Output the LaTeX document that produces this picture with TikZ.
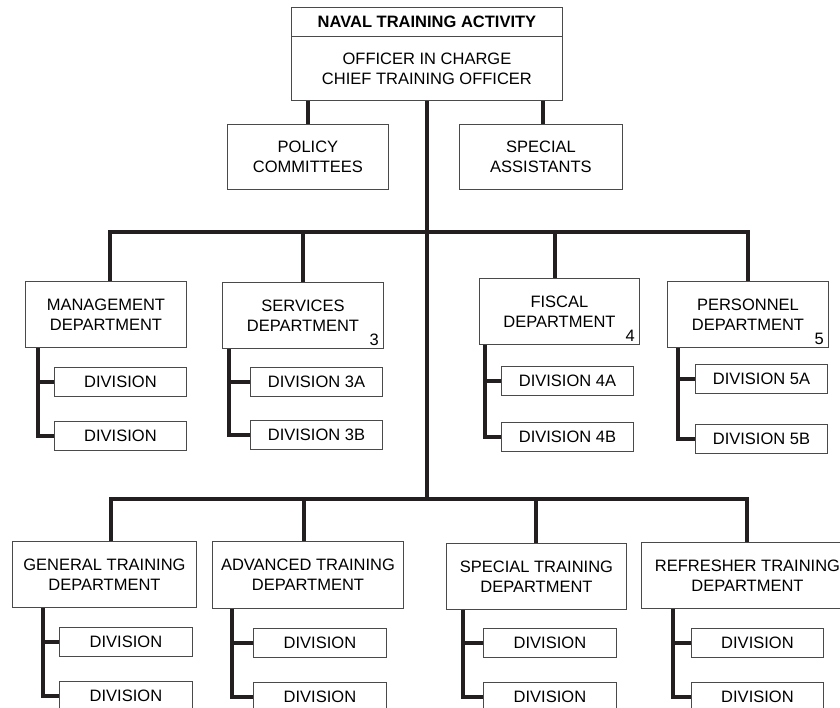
\documentclass[tikz,border=0pt]{standalone}
\usepackage{fontspec}
\setmainfont{Liberation Sans}
\usepackage{tikz}
\usetikzlibrary{positioning,calc}
\definecolor{linedark}{HTML}{231F20}
\definecolor{boxgray}{HTML}{4A4A4A}
\begin{document}
\begin{tikzpicture}[x=1pt, y=-1pt,
    box/.style={draw=boxgray, line width=0.9pt, inner sep=0pt, align=center, anchor=north west,
        font=\fontsize{16.5}{20}\selectfont},
    dept/.style={box, minimum width=161, minimum height=66},
    div/.style={box, minimum width=132, minimum height=29},
    num/.style={anchor=south east, inner xsep=5pt, inner ysep=3pt, font=\fontsize{16.5}{20}\selectfont},
    conn/.style={draw=linedark, line width=4pt}]
    \useasboundingbox (0,0) rectangle (840,708);
    \clip (0,0) rectangle (840,708);

    \node[box, minimum width=271, minimum height=29, font=\fontsize{16.5}{20}\selectfont\bfseries] (naval) at (291,7) {NAVAL TRAINING ACTIVITY};
    \node[box, minimum width=271, minimum height=64] (oic) at (291,36) {OFFICER IN CHARGE\\CHIEF TRAINING OFFICER};
    \node[box, minimum width=161, minimum height=65] (policy) at (227,124) {POLICY\\COMMITTEES};
    \node[box, minimum width=163, minimum height=65] (assist) at (459,124) {SPECIAL\\ASSISTANTS};

    \node[dept] (mgmt) at (25,281) {MANAGEMENT\\DEPARTMENT};
    \node[dept] (serv) at (222,282) {SERVICES\\DEPARTMENT};
    \node[dept, minimum width=160] (fisc) at (479,278) {FISCAL\\DEPARTMENT};
    \node[dept] (pers) at (667,281) {PERSONNEL\\DEPARTMENT};
    \node[num] (n3) at (serv.south east) {3};
    \node[num] (n4) at (fisc.south east) {4};
    \node[num] (n5) at (pers.south east) {5};

    \node[div] (md1) at (54,367) {DIVISION};
    \node[div] (md2) at (54,421) {DIVISION};
    \node[div] (sd1) at (250,367) {DIVISION 3A};
    \node[div] (sd2) at (250,420) {DIVISION 3B};
    \node[div] (fd1) at (501,366) {DIVISION 4A};
    \node[div] (fd2) at (501,422) {DIVISION 4B};
    \node[div] (pd1) at (695,364) {DIVISION 5A};
    \node[div] (pd2) at (695,424) {DIVISION 5B};

    \node[dept, minimum width=184] (gen) at (12,541) {GENERAL TRAINING\\DEPARTMENT};
    \node[dept, minimum width=191, minimum height=67] (adv) at (212,541) {ADVANCED TRAINING\\DEPARTMENT};
    \node[dept, minimum width=180] (spec) at (446,543) {SPECIAL TRAINING\\DEPARTMENT};
    \node[dept, minimum width=212] (refr) at (641,542) {REFRESHER TRAINING\\DEPARTMENT};

    \node[div, minimum width=133] (gd1) at (59,627) {DIVISION};
    \node[div, minimum width=133] (gd2) at (59,681) {DIVISION};
    \node[div, minimum width=133] (ad1) at (253,628) {DIVISION};
    \node[div, minimum width=133] (ad2) at (253,682) {DIVISION};
    \node[div, minimum width=133] (xd1) at (483,628) {DIVISION};
    \node[div, minimum width=133] (xd2) at (483,682) {DIVISION};
    \node[div] (rd1) at (691,628) {DIVISION};
    \node[div] (rd2) at (691,682) {DIVISION};

    \coordinate (b1) at (425,232);
    \coordinate (b2) at (425,499);

    \draw[conn] (oic.south) -- (oic.south |- b2);
    \draw[conn] (oic.south -| policy.north) -- (policy.north);
    \draw[conn] ([xshift=2pt]oic.south -| assist.north) -- ([xshift=2pt]assist.north);
    \draw[conn] ([xshift=4pt]mgmt.north) |- (b1) -| (pers.north);
    \draw[conn] (serv.north) -- (serv.north |- b1);
    \draw[conn] ([xshift=-4pt]fisc.north) -- ([xshift=-4pt]fisc.north |- b1);
    \draw[conn] ([xshift=7pt]gen.north) |- (b2) -| (refr.north);
    \draw[conn] ([xshift=-4pt]adv.north) -- ([xshift=-4pt]adv.north |- b2);
    \draw[conn] (spec.north) -- (spec.north |- b2);

    \coordinate (mb) at ([xshift=13pt]mgmt.south west);
    \coordinate (sb) at ([xshift=7pt]serv.south west);
    \coordinate (fb) at ([xshift=6pt]fisc.south west);
    \coordinate (pb) at ([xshift=11pt]pers.south west);
    \coordinate (gb) at ([xshift=31pt]gen.south west);
    \coordinate (ab) at ([xshift=20pt]adv.south west);
    \coordinate (xb) at ([xshift=17pt]spec.south west);
    \coordinate (rb) at ([xshift=32pt]refr.south west);

    \draw[conn] (mb) |- (md2.west);
    \draw[conn] (mb |- md1.west) -- (md1.west);
    \draw[conn] (sb) |- (sd2.west);
    \draw[conn] (sb |- sd1.west) -- (sd1.west);
    \draw[conn] (fb) |- (fd2.west);
    \draw[conn] (fb |- fd1.west) -- (fd1.west);
    \draw[conn] (pb) |- (pd2.west);
    \draw[conn] (pb |- pd1.west) -- (pd1.west);
    \draw[conn] (gb) |- (gd2.west);
    \draw[conn] (gb |- gd1.west) -- (gd1.west);
    \draw[conn] (ab) |- (ad2.west);
    \draw[conn] (ab |- ad1.west) -- (ad1.west);
    \draw[conn] (xb) |- (xd2.west);
    \draw[conn] (xb |- xd1.west) -- (xd1.west);
    \draw[conn] (rb) |- (rd2.west);
    \draw[conn] (rb |- rd1.west) -- (rd1.west);
\end{tikzpicture}
\end{document}
